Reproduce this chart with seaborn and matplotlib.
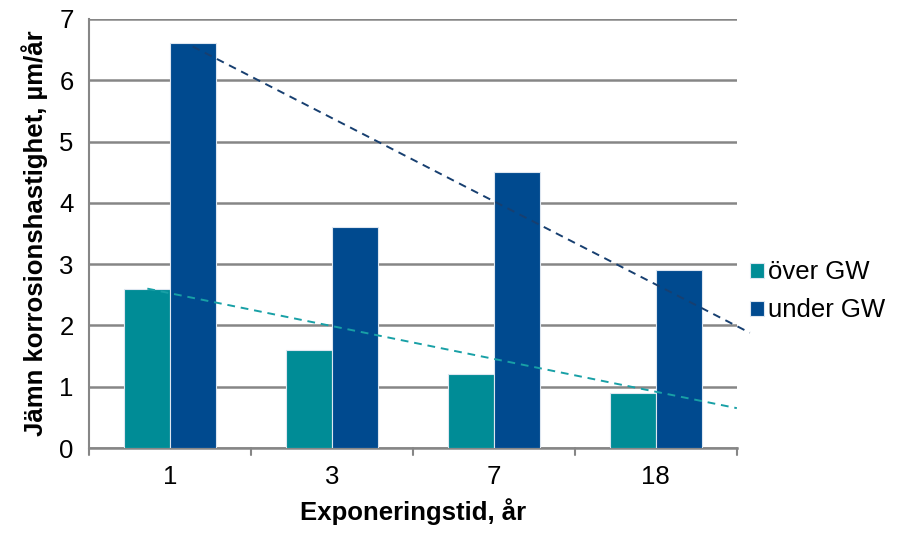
import matplotlib
matplotlib.use("Agg")
import matplotlib.pyplot as plt
import seaborn as sns
import pandas as pd
import numpy as np

# Exposure times (years) and uniform corrosion rates (µm/year)
categories = ["1", "3", "7", "18"]
series_names = ["över GW", "under GW"]
over_gw = [2.6, 1.6, 1.2, 0.9]
under_gw = [6.6, 3.6, 4.5, 2.9]
y_ticks = [0, 1, 2, 3, 4, 5, 6, 7]

# Linear trend lines: (x start, value start, x end, value end) in category units
trend_over = [-0.14, 2.6, 3.5, 0.65]
trend_under = [0.14, 6.55, 3.58, 1.88]

colors = {"över GW": "#008C96", "under GW": "#004A8F"}
trend_colors = {"över GW": "#18A0A6", "under GW": "#173F70"}

df = pd.DataFrame({
    "tid": categories * 2,
    "serie": [series_names[0]] * 4 + [series_names[1]] * 4,
    "hastighet": over_gw + under_gw,
})

sns.set_style("white")
plt.rcParams["font.family"] = ["Liberation Sans", "DejaVu Sans"]
plt.rcParams["text.color"] = "black"
plt.rcParams["axes.labelcolor"] = "black"
plt.rcParams["xtick.color"] = "black"
plt.rcParams["ytick.color"] = "black"

fig = plt.figure(figsize=(9.15, 5.35), dpi=100)
ax = fig.add_axes([0.0973, 0.1626, 0.708, 0.802])

sns.barplot(data=df, x="tid", y="hastighet", hue="serie", order=categories,
            hue_order=series_names, palette=colors, saturation=1, width=0.57,
            edgecolor="#DDE6F0", linewidth=0.8, ax=ax, zorder=3)

for tr, name in ((trend_over, "över GW"), (trend_under, "under GW")):
    ax.plot([tr[0], tr[2]], [tr[1], tr[3]], linestyle=(0, (4, 3)),
            color=trend_colors[name], linewidth=1.4, zorder=4, clip_on=False)

ax.set_xlim(-0.5, 3.5)
ax.set_ylim(0, 7)
ax.set_yticks(y_ticks)
ax.set_yticklabels([str(v) for v in y_ticks], fontsize=18.5)
ax.set_xticks(range(len(categories)))
ax.set_xticklabels(categories, fontsize=18.5)
ax.tick_params(axis="x", length=0, pad=12)
ax.tick_params(axis="y", length=6, width=1.5, color="#868686", labelcolor="black",
               direction="out", pad=5)

# category boundary ticks on the x axis
for b in np.arange(-0.5, 4.0, 1.0):
    ax.plot([b, b], [0, -0.12], color="#868686", linewidth=1.5, clip_on=False, zorder=2)

ax.yaxis.grid(True, color="#868686", linewidth=1.8, zorder=0)
ax.set_axisbelow(True)
for side in ("top", "right"):
    ax.spines[side].set_visible(False)
ax.spines["left"].set_color("#868686")
ax.spines["left"].set_linewidth(1.5)
ax.spines["bottom"].set_color("#868686")
ax.spines["bottom"].set_linewidth(1.8)

ax.set_xlabel("Exponeringstid, år", fontsize=18.5, fontweight="bold", labelpad=7)
ax.set_ylabel("Jämn korrosionshastighet, µm/år", fontsize=18.5, fontweight="bold", labelpad=8)

handles, labels = ax.get_legend_handles_labels()
ax.legend(handles, labels, loc="center left", bbox_to_anchor=(1.005, 0.365),
          frameon=False, fontsize=18.5, handlelength=0.55, handleheight=0.55,
          handletextpad=0.15, labelspacing=0.55, borderaxespad=0)

fig.savefig("out.png", dpi=100)
